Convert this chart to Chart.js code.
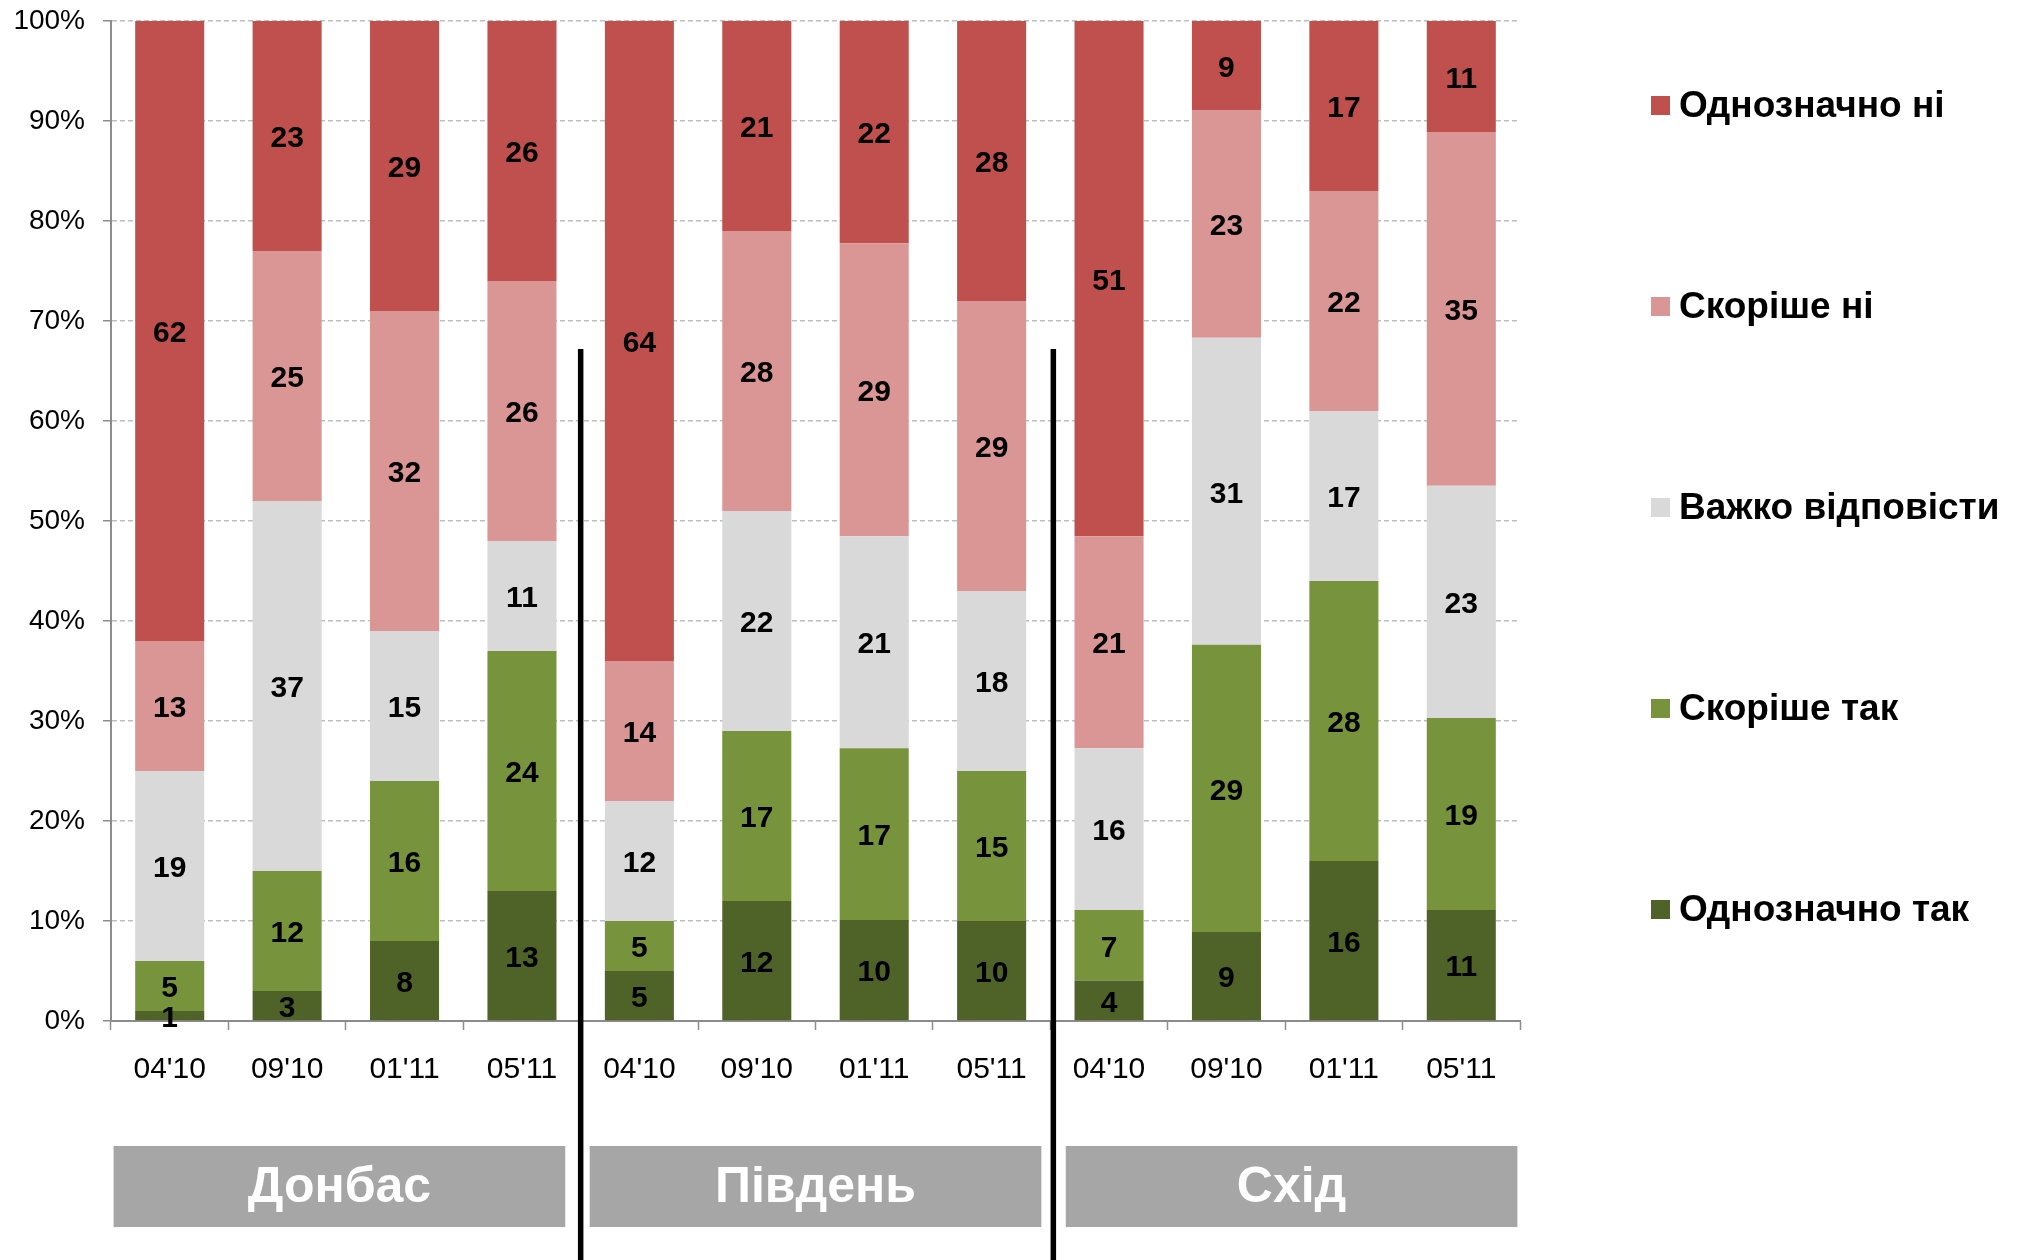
<!DOCTYPE html>
<html>
<head>
<meta charset="utf-8">
<script src="https://cdn.jsdelivr.net/npm/chart.js"></script>
<style>
  html, body { margin: 0; padding: 0; background: #fff; }
  #wrap { width: 2020px; height: 1260px; }
</style>
</head>
<body>
<div id="wrap"><canvas id="chart"></canvas></div>
<script>
const regions = ["Донбас", "Південь", "Схід"];
const periods = ["04'10", "09'10", "01'11", "05'11"];

// answers, 4 periods per region (Донбас, Південь, Схід)
const definitelyYes = [1, 3, 8, 13, 5, 12, 10, 10, 4, 9, 16, 11];
const ratherYes = [5, 12, 16, 24, 5, 17, 17, 15, 7, 29, 28, 19];
const hardToSay = [19, 37, 15, 11, 12, 22, 21, 18, 16, 31, 17, 23];
const ratherNo = [13, 25, 32, 26, 14, 28, 29, 29, 21, 23, 22, 35];
const definitelyNo = [62, 23, 29, 26, 64, 21, 22, 28, 51, 9, 17, 11];

const seriesNames = ["Однозначно так", "Скоріше так", "Важко відповісти", "Скоріше ні", "Однозначно ні"];
const seriesValues = [definitelyYes, ratherYes, hardToSay, ratherNo, definitelyNo];
const seriesColors = ["#4F6228", "#77933C", "#D9D9D9", "#D99694", "#C0504D"];

const FONT = "'Liberation Sans', Arial, sans-serif";

const labels = regions.flatMap(() => periods);
const totals = labels.map((_, i) => seriesValues.reduce((s, arr) => s + arr[i], 0));

// 100% stacked: each column scaled by its own total
const datasets = seriesNames.map((name, k) => ({
  label: name,
  data: seriesValues[k].map((v, i) => v / totals[i] * 100),
  backgroundColor: seriesColors[k],
  borderWidth: 0,
  barPercentage: 0.588,
  categoryPercentage: 1,
}));

const decor = {
  id: "decor",
  afterDatasetsDraw(chart) {
    const ctx = chart.ctx;
    ctx.save();
    ctx.font = "bold 30px " + FONT;
    ctx.fillStyle = "#000";
    ctx.textAlign = "center";
    ctx.textBaseline = "middle";
    chart.data.datasets.forEach((ds, d) => {
      chart.getDatasetMeta(d).data.forEach((bar, i) => {
        ctx.fillText(String(seriesValues[d][i]), bar.x, (bar.y + bar.base) / 2 + 3);
      });
    });
    ctx.restore();
  },
  afterDraw(chart) {
    const ctx = chart.ctx;
    const x = chart.scales.x;
    const area = chart.chartArea;
    const slot = x.getPixelForValue(1) - x.getPixelForValue(0);
    const n = periods.length;
    ctx.save();

    // region boxes under the axis (slightly wider spacing than the groups)
    regions.forEach((name, g) => {
      const cx = (x.getPixelForValue(g * n) + x.getPixelForValue(g * n + n - 1)) / 2 + (g - 1) * 6.4;
      const w = n * slot - 18;
      ctx.fillStyle = "#A6A6A6";
      ctx.fillRect(cx - w / 2, area.bottom + 125, w, 81);
      ctx.fillStyle = "#fff";
      ctx.font = "bold 50px " + FONT;
      ctx.textAlign = "center";
      ctx.textBaseline = "middle";
      ctx.fillText(name, cx, area.bottom + 167);
    });

    // black separators between regions
    ctx.strokeStyle = "#000";
    ctx.lineWidth = 5.5;
    for (let g = 1; g < regions.length; g++) {
      const bx = x.getPixelForValue(g * n) - slot / 2 + (g - 1) * 3;
      ctx.beginPath();
      ctx.moveTo(bx, chart.scales.y.getPixelForValue(67.2));
      ctx.lineTo(bx, chart.height);
      ctx.stroke();
    }

    // legend, top item is the last series
    ctx.font = "bold 37px " + FONT;
    ctx.textAlign = "left";
    ctx.textBaseline = "middle";
    for (let k = 0; k < seriesNames.length; k++) {
      const idx = seriesNames.length - 1 - k;
      const y = 105.5 + k * 201;
      ctx.fillStyle = seriesColors[idx];
      ctx.fillRect(1651, y - 9.5, 19, 19);
      ctx.fillStyle = "#000";
      ctx.fillText(seriesNames[idx], 1679, y + 1);
    }
    ctx.restore();
  }
};

new Chart(document.getElementById("chart"), {
  type: "bar",
  data: { labels: labels, datasets: datasets },
  options: {
    responsive: true,
    maintainAspectRatio: false,
    animation: false,
    devicePixelRatio: 1,
    layout: { padding: { top: 21, right: 500, left: 0, bottom: 0 } },
    plugins: {
      legend: { display: false },
      tooltip: { enabled: false },
    },
    scales: {
      x: {
        stacked: true,
        afterFit: (scale) => { scale.height = 239; },
        grid: {
          drawOnChartArea: false,
          drawTicks: true,
          tickLength: 9,
          tickColor: "#8c8c8c",
          tickWidth: 1.5,
        },
        border: { color: "#8c8c8c", width: 2 },
        ticks: {
          color: "#000",
          font: { family: FONT, size: 30 },
          padding: 22,
          maxRotation: 0,
          autoSkip: false,
        },
      },
      y: {
        stacked: true,
        min: 0,
        max: 100,
        afterFit: (scale) => {
          scale.width = 111;
          scale.paddingTop = 0;
          scale.paddingBottom = 0;
        },
        grid: {
          color: "#bfbfbf",
          lineWidth: 1.5,
          tickLength: 8,
          tickColor: "#8c8c8c",
          tickBorderDash: [],
        },
        border: { color: "#8c8c8c", width: 2, dash: [5, 3] },
        ticks: {
          stepSize: 10,
          color: "#000",
          font: { family: FONT, size: 28 },
          padding: 18,
          callback: (v) => v + "%",
        },
      },
    },
  },
  plugins: [decor],
});
</script>
</body>
</html>
